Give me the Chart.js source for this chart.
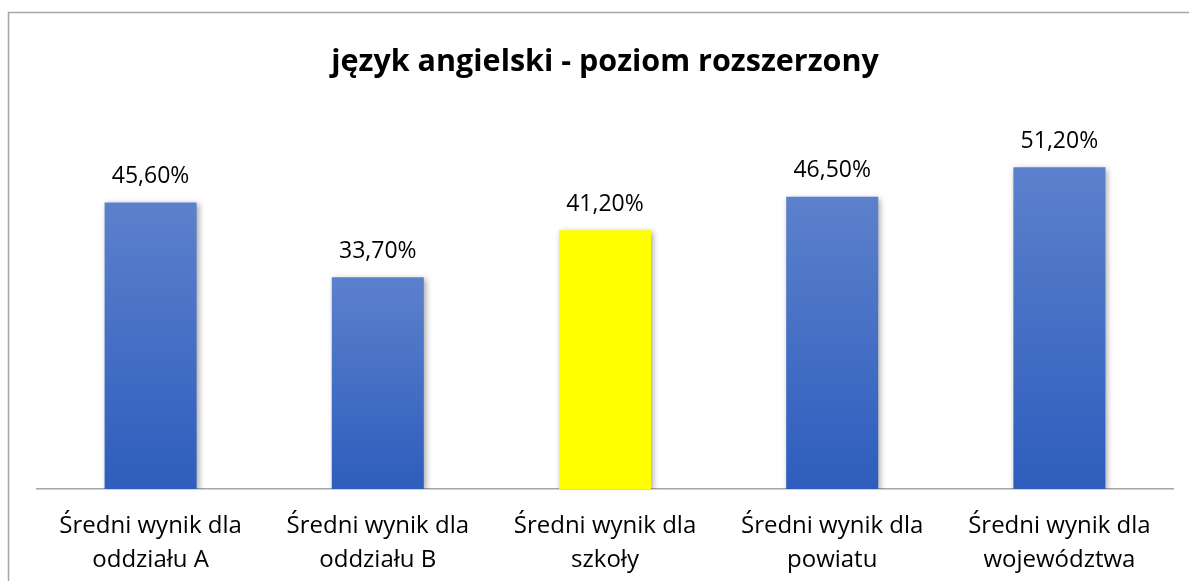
<!DOCTYPE html>
<html><head><meta charset="utf-8">
<script src="https://cdn.jsdelivr.net/npm/chart.js@4"></script>
<style>html,body{margin:0;padding:0;background:#fff;}#wrap{width:1189px;height:581px;position:relative;}</style>
</head><body><div id="wrap"><canvas id="c" width="1189" height="581"></canvas></div>
<script>
const title = 'język angielski - poziom rozszerzony';
const categories = [
  ['Średni wynik dla','oddziału A'],
  ['Średni wynik dla','oddziału B'],
  ['Średni wynik dla','szkoły'],
  ['Średni wynik dla','powiatu'],
  ['Średni wynik dla','województwa']
];
const values = [45.6, 33.7, 41.2, 46.5, 51.2];
const highlightIndex = [2];
const yMax = 60;

const FONT = "'Open Sans', 'Liberation Sans', sans-serif";

const framePlugin = {
  id: 'frame',
  beforeDraw(chart) {
    const c = chart.ctx;
    c.save();
    c.fillStyle = '#fff';
    c.fillRect(0, 0, chart.width, chart.height);
    c.strokeStyle = '#a6a6a6';
    c.lineWidth = 1.5;
    c.beginPath();
    c.moveTo(8.5, chart.height + 5);
    c.lineTo(8.5, 12.5);
    c.lineTo(chart.width + 5, 12.5);
    c.stroke();
    c.fillStyle = '#000';
    c.font = "bold 30.5px " + FONT;
    c.textAlign = 'center';
    c.textBaseline = 'middle';
    c.fillText(title, 605, 62);
    c.restore();
  },
  beforeDatasetsDraw(chart) {
    const c = chart.ctx;
    c.save();
    c.shadowColor = 'rgba(0,0,0,0.35)';
    c.shadowBlur = 6;
    c.shadowOffsetX = 2;
    c.shadowOffsetY = 2;
  },
  afterDatasetsDraw(chart) {
    chart.ctx.restore();
    const c = chart.ctx;
    const meta = chart.getDatasetMeta(0);
    c.save();
    c.fillStyle = '#000';
    c.font = "23px " + FONT;
    c.textAlign = 'center';
    c.textBaseline = 'middle';
    meta.data.forEach((bar, i) => {
      const v = chart.data.datasets[0].data[i];
      c.fillText(v.toFixed(2).replace('.', ',') + '%', bar.x, bar.y - 26);
    });
    c.restore();
  }
};

new Chart(document.getElementById('c'), {
  type: 'bar',
  data: {
    labels: categories,
    datasets: [{
      data: values,
      backgroundColor(ctx) {
        if (highlightIndex.includes(ctx.dataIndex)) return '#ffff00';
        const chart = ctx.chart;
        const ys = chart.scales && chart.scales.y;
        if (!ys || !chart.chartArea) return '#4472c4';
        const top = ys.getPixelForValue(ctx.raw);
        const bottom = ys.getPixelForValue(0);
        const g = chart.ctx.createLinearGradient(0, top, 0, bottom);
        g.addColorStop(0, '#5c81cc');
        g.addColorStop(1, '#2e5dbd');
        return g;
      },
      borderWidth: 0,
      categoryPercentage: 1,
      barPercentage: 0.405
    }]
  },
  options: {
    responsive: false,
    animation: false,
    devicePixelRatio: 1,
    layout: { padding: { left: 37, right: 16, top: 112, bottom: 0 } },
    plugins: { legend: { display: false }, tooltip: { enabled: false }, title: { display: false } },
    scales: {
      y: { display: false, min: 0, max: yMax },
      x: {
        grid: { display: false, drawTicks: false },
        border: { display: true, color: '#a6a6a6', width: 1.5 },
        ticks: { color: '#000', font: { family: FONT, size: 24, lineHeight: 1.42 }, padding: 20, maxRotation: 0, autoSkip: false },
        afterFit(scale) { scale.height = 92; }
      }
    }
  },
  plugins: [framePlugin]
});
</script></body></html>
